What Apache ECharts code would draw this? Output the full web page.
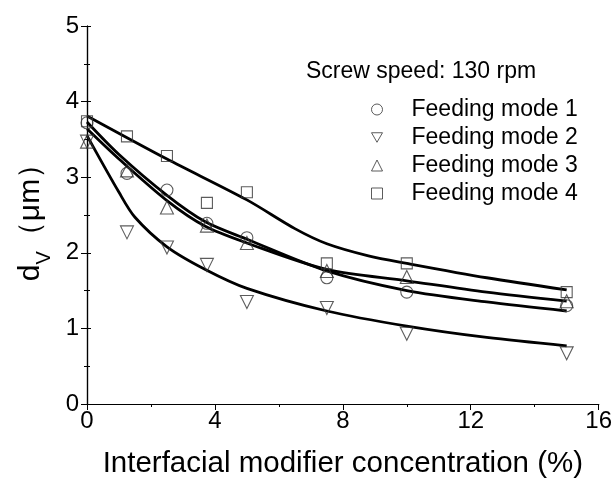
<!DOCTYPE html>
<html><head><meta charset="utf-8">
<script src="https://cdn.jsdelivr.net/npm/echarts@6/dist/echarts.min.js"></script>
<style>html,body{margin:0;padding:0;background:#fff}#c{width:615px;height:484px}</style>
</head><body><div id="c"></div>
<script>
// measured points
const xValues = [0, 1.25, 2.5, 3.75, 5, 7.5, 10, 15];
const mode1 = [3.72, 3.05, 2.83, 2.39, 2.20, 1.67, 1.48, 1.30];
const mode2 = [3.47, 2.27, 2.07, 1.84, 1.35, 1.27, 0.93, 0.67];
const mode3 = [3.47, 3.09, 2.60, 2.36, 2.13, 1.76, 1.68, 1.36];
const mode4 = [3.74, 3.54, 3.28, 2.66, 2.80, 1.86, 1.86, 1.48];
// fitted curves as [x, y]
const fit1 = [[0,3.73],[1,3.30],[2.5,2.76],[3.7,2.41],[5,2.18],[7.5,1.76],[10,1.50],[12.5,1.35],[15,1.23]];
const fit2 = [[0,3.55],[1,2.80],[1.5,2.47],[2.5,2.08],[3.7,1.78],[5,1.53],[7.5,1.23],[10,1.03],[12.5,0.88],[15,0.77]];
const fit3 = [[0,3.64],[1,3.24],[2.5,2.69],[3.7,2.35],[5,2.13],[7.5,1.78],[10,1.63],[12.5,1.48],[15,1.36]];
const fit4 = [[0,3.81],[2.5,3.24],[5,2.70],[6.5,2.32],[7.5,2.12],[8.8,1.96],[10,1.86],[12.5,1.67],[15,1.51]];
const names = ['Feeding mode 1','Feeding mode 2','Feeding mode 3','Feeding mode 4'];
const xTicks = [0, 4, 8, 12, 16];
const yTicks = [0, 1, 2, 3, 4, 5];

const FONT = 'Liberation Sans, Arial, sans-serif';
const downTri = 'path://M0,0 L10,0 L5,8.66 Z';
const symbols = ['circle', downTri, 'triangle', 'rect'];
const sizes = [12, 13, 13, 11];
const modes = [mode1, mode2, mode3, mode4];
const fits = [fit1, fit2, fit3, fit4];

const series = [];
fits.forEach(f => series.push({
  type: 'line', data: f, smooth: 0.3, symbol: 'none', silent: true,
  lineStyle: {color: '#000', width: 2.8}, z: 3
}));
modes.forEach((m, i) => series.push({
  type: 'scatter', name: names[i],
  data: xValues.map((x, j) => [x, m[j]]),
  symbol: symbols[i], symbolSize: sizes[i],
  itemStyle: {color: 'rgba(255,255,255,0)', borderColor: '#333', borderWidth: 1.1},
  z: 4
}));

const chart = echarts.init(document.getElementById('c'), null, {renderer: 'canvas'});
chart.setOption({
  animation: false,
  backgroundColor: '#fff',
  grid: {left: 87, right: 15, top: 26, bottom: 77},
  title: {text: 'Screw speed: 130 rpm', left: 306, top: 60, padding: 0,
    textStyle: {fontFamily: FONT, fontSize: 23, fontWeight: 'normal', color: '#000'}},
  legend: {
    data: names.map((n, i) => ({name: n, icon: symbols[i]})),
    orient: 'vertical', left: 371, top: 98, padding: 0, itemWidth: 11, itemHeight: 11, itemGap: 5,
    itemStyle: {color: '#fff', borderColor: '#333', borderWidth: 1},
    textStyle: {fontFamily: FONT, fontSize: 23, color: '#000', padding: [0, 0, 0, 24]}
  },
  xAxis: [{
    type: 'value', min: 0, max: 16, interval: 4,
    name: 'Interfacial modifier concentration (%)', nameLocation: 'middle', nameGap: 45,
    nameTextStyle: {fontFamily: FONT, fontSize: 29.5, color: '#000'},
    axisLine: {show: true, onZero: false, lineStyle: {color: '#000', width: 1.2}},
    axisTick: {show: true, length: 6, lineStyle: {color: '#000'}},
    minorTick: {show: true, splitNumber: 2, length: 3, lineStyle: {color: '#000'}},
    axisLabel: {fontFamily: FONT, fontSize: 24, color: '#000', margin: 5,
      formatter: v => xTicks.includes(v) ? String(v) : ''},
    splitLine: {show: false}
  }, {
    type: 'value', position: 'top', min: 0, max: 16, interval: 4,
    axisLine: {show: true, lineStyle: {color: '#000', width: 1.2}},
    axisTick: {show: true, inside: true, length: 5, lineStyle: {color: '#000'}},
    minorTick: {show: true, splitNumber: 2, length: 3, lineStyle: {color: '#000'}},
    axisLabel: {show: false}, splitLine: {show: false}
  }],
  yAxis: [{
    type: 'value', min: 0, max: 5, interval: 1,
    name: '{a|d}{b|V}{a|（μm）}', nameLocation: 'middle', nameGap: 41, nameRotate: 90,
    nameTextStyle: {rich: {
      a: {fontFamily: FONT, fontSize: 30, color: '#000'},
      b: {fontFamily: FONT, fontSize: 20, color: '#000', verticalAlign: 'bottom', padding: [0, 0, -8, 0]}
    }},
    axisLine: {show: true, onZero: false, lineStyle: {color: '#000', width: 1.2}},
    axisTick: {show: true, length: 6, lineStyle: {color: '#000'}},
    minorTick: {show: true, splitNumber: 2, length: 3, lineStyle: {color: '#000'}},
    axisLabel: {fontFamily: FONT, fontSize: 24, color: '#000', margin: 8,
      formatter: v => yTicks.includes(v) ? String(v) : ''},
    splitLine: {show: false}
  }, {
    type: 'value', position: 'right', min: 0, max: 5, interval: 1,
    axisLine: {show: true, lineStyle: {color: '#000', width: 1.2}},
    axisTick: {show: true, length: 4, lineStyle: {color: '#000'}},
    minorTick: {show: true, splitNumber: 2, length: 3, lineStyle: {color: '#000'}},
    axisLabel: {show: false}, splitLine: {show: false}
  }],
  series: series
});
</script></body></html>
